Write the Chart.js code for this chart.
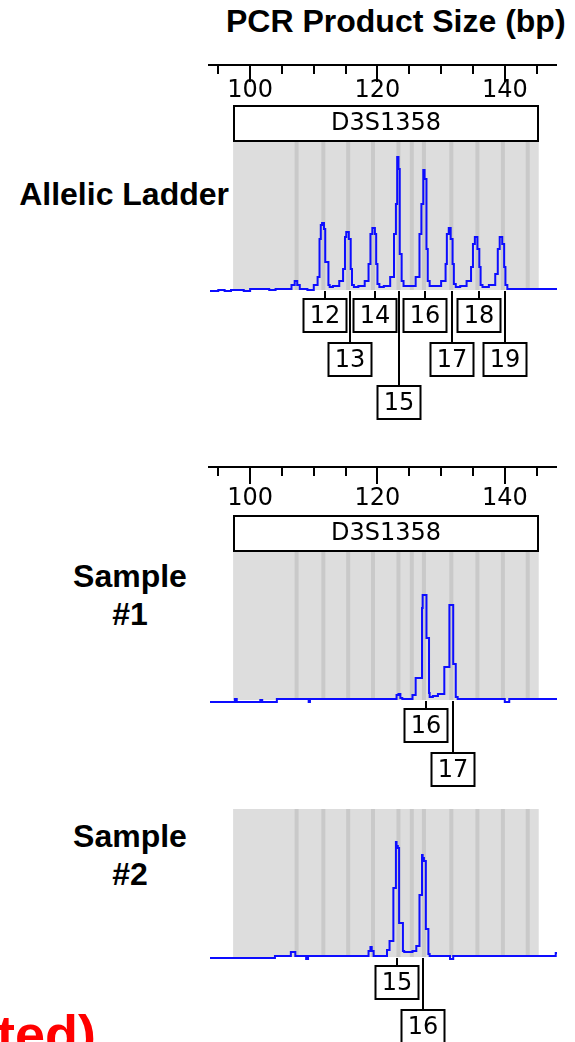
<!DOCTYPE html>
<html>
<head>
<meta charset="utf-8">
<script src="https://cdn.jsdelivr.net/npm/chart.js@4.4.1/dist/chart.umd.min.js"></script>
<style>
  html, body { margin: 0; padding: 0; background: #fff; }
  body { width: 575px; height: 1042px; position: relative; overflow: hidden; font-family: "Liberation Sans", Arial, sans-serif; }
  .lbl { position: absolute; font-weight: bold; color: #000; font-size: 32px; line-height: 38px; white-space: nowrap; }
  canvas { position: absolute; }
</style>
</head>
<body>
<div class="lbl" style="left:226px; top:2px;">PCR Product Size (bp)</div>
<div class="lbl" style="right:346px; top:175px;">Allelic Ladder</div>
<div class="lbl" style="left:60px; width:140px; text-align:center; top:557px;">Sample<br>#1</div>
<div class="lbl" style="left:60px; width:140px; text-align:center; top:817px;">Sample<br>#2</div>
<div class="lbl" style="left:-3px; top:1007px; font-size:54px; line-height:54px; color:#ff0000;">ted)</div>

<canvas id="ladderChart" width="375" height="400" style="left:200px; top:40px;"></canvas>
<canvas id="sample1Chart" width="375" height="360" style="left:200px; top:440px;"></canvas>
<canvas id="sample2Chart" width="375" height="242" style="left:200px; top:800px;"></canvas>

<script>
// size axis (bp)
const rulerTicks = [95, 100, 105, 110, 115, 120, 125, 130, 135, 140, 145];
const rulerLabels = [100, 120, 140];
const locusName = 'D3S1358';
const panelRange = [97.33, 145.33];
const binBp = [107.3, 111.5, 115.4, 119.3, 123.3, 125.4, 127.3, 131.6, 135.7, 139.7, 143.6];

/* ALLELIC LADDER trace */
const ladderBp = [93.7, 95.0, 96.0, 97.0, 98.0, 99.0, 100.0, 101.5, 103.0, 104.0, 105.0, 106.5,
  107.0, 107.4, 107.8, 108.2, 109.0, 110.0,
  110.6, 110.9, 111.1, 111.3, 111.6, 111.8, 112.0, 112.3, 112.5, 113.0, 114.0,
  114.6, 114.9, 115.1, 115.5, 115.8, 116.0, 116.3, 117.0, 118.0,
  118.6, 118.9, 119.2, 119.6, 119.8, 120.0, 120.3, 121.0, 122.0,
  122.6, 122.9, 123.1, 123.3, 123.5, 123.8, 124.1, 125.0, 126.0,
  126.6, 126.9, 127.2, 127.4, 127.7, 127.9, 128.2, 129.0, 130.0,
  130.7, 130.9, 131.2, 131.5, 131.8, 132.0, 132.3, 133.0, 134.0,
  134.7, 135.0, 135.3, 135.7, 136.0, 136.2, 136.5, 137.5, 138.5,
  138.9, 139.2, 139.6, 139.9, 140.1, 140.4, 141.0, 143.0, 145.0, 148.2];
const ladderRfu = [-2, -2, -1, -2, -1, -1, -2, 0, 0, -1, 0, 0,
  4, 8, 4, 0, 0, -1,
  4, 12, 50, 64, 66, 60, 27, 27, 4, 2, 3,
  8, 20, 52, 57, 50, 20, 4, 2, 3,
  8, 25, 55, 61, 55, 25, 5, 2, 3,
  12, 55, 85, 132, 120, 35, 8, 3, 3,
  12, 55, 85, 119, 110, 40, 8, 3, 3,
  8, 25, 55, 61, 50, 25, 5, 2, 3,
  8, 22, 45, 52, 40, 22, 4, 2, 4,
  15, 40, 52, 45, 22, 4, 0, 0, 0, 0];
const ladderAlleles = ['12', '13', '14', '15', '16', '17', '18', '19'];
const ladderAlleleBp = [111.69, 115.76, 119.69, 123.45, 127.53, 131.76, 136.0, 140.08];
const ladderAlleleRow = [0, 1, 0, 2, 0, 1, 0, 1];

/* SAMPLE #1 trace */
const sample1Bp = [93.7, 97.6, 97.9, 98.2, 101.6, 101.9, 102.2, 104.2, 104.5, 109.2, 109.4, 109.7,
  123.0, 123.3, 123.6, 123.9, 124.3, 125.5, 126.0, 126.4, 127.0, 127.1, 127.5, 127.7, 127.9, 128.1,
  128.2, 128.7, 129.5, 130.5, 130.9, 131.3, 131.4, 131.9, 132.0, 132.3, 132.6, 133.0,
  140.0, 140.3, 140.7, 141.0, 148.2];
const sample1Rfu = [-3, -3, 0, -3, -3, -1, -3, -3, 0, 0, -3, 0,
  0, 4, 5, 1, 0, 0, 4, 21, 21, 91, 104, 104, 61, 61,
  6, 2, 3, 5, 32, 32, 94, 94, 35, 35, 2, 0,
  0, -3, -3, 0, 0];
const sample1Alleles = ['16', '17'];
const sample1AlleleBp = [127.6, 131.8];
const sample1AlleleRow = [0, 1];

/* SAMPLE #2 trace */
const sample2Bp = [93.7, 103.9, 104.0, 106.4, 106.7, 107.1, 107.4, 108.8, 109.1, 109.4,
  118.6, 118.9, 119.1, 119.4, 119.7, 121.5, 121.9, 122.2, 122.5, 122.6, 122.9, 123.0, 123.2, 123.4,
  123.5, 124.0, 124.2, 124.8, 125.5, 126.1, 126.3, 126.6, 126.7, 127.0, 127.1, 127.3, 127.6,
  127.7, 128.0, 128.2, 128.8, 131.4, 131.6, 131.9, 132.1, 148.0, 148.2];
const sample2Rfu = [-2, -2, 0, 0, 4, 4, 0, 0, -3, 0,
  0, 5, 9, 5, 0, 0, 6, 15, 15, 68, 68, 114, 110, 108,
  33, 33, 5, 4, 4, 5, 10, 10, 61, 61, 101, 98, 95,
  27, 27, 2, 0, 0, -3, -3, 0, 0, 3];
const sample2Alleles = ['15', '16'];
const sample2AlleleBp = [123.0, 127.2];
const sample2AlleleRow = [0, 1];

const rowTops = [9, 53, 96];

const tracePanel = {
  id: 'tracePanel',
  beforeDatasetsDraw(chart, args, opts) {
    const { ctx, chartArea, scales: { x, y } } = chart;
    const l = x.getPixelForValue(panelRange[0]);
    const r = x.getPixelForValue(panelRange[1]);
    const top = chartArea.top;
    const bot = y.getPixelForValue(0) + 1;
    ctx.save();
    ctx.fillStyle = '#dddddd';
    ctx.fillRect(l, top, r - l, bot - top);
    ctx.fillStyle = '#c9c9c9';
    binBp.forEach(b => {
      const bx = x.getPixelForValue(b);
      ctx.fillRect(bx - 2, top, 4, bot - top);
    });
    ctx.restore();
  },
  afterDraw(chart, args, opts) {
    const { ctx, chartArea, scales: { x, y } } = chart;
    const base = y.getPixelForValue(0);
    ctx.save();
    ctx.strokeStyle = '#000';
    ctx.fillStyle = '#000';
    ctx.lineWidth = 2;
    ctx.font = '24px "DejaVu Sans"';
    ctx.textAlign = 'center';
    ctx.textBaseline = 'middle';

    if (opts.ruler) {
      const ly = opts.ruler.lineY;
      ctx.beginPath();
      ctx.moveTo(chartArea.left - 2, ly);
      ctx.lineTo(chartArea.right, ly);
      ctx.stroke();
      rulerTicks.forEach(t => {
        const tx = Math.round(x.getPixelForValue(t));
        const long = rulerLabels.includes(t);
        ctx.beginPath();
        ctx.moveTo(tx, ly);
        ctx.lineTo(tx, ly + (long ? 17 : 9));
        ctx.stroke();
      });
      rulerLabels.forEach(t => ctx.fillText(String(t), x.getPixelForValue(t), opts.ruler.labelY));

      // locus name box
      const l = Math.round(x.getPixelForValue(panelRange[0]));
      const r = Math.round(x.getPixelForValue(panelRange[1]));
      const bt = chartArea.top - 37;
      ctx.fillStyle = '#fff';
      ctx.fillRect(l, bt, r - l, 37);
      ctx.strokeRect(l + 1, bt + 1, r - l - 2, 35);
      ctx.fillStyle = '#000';
      ctx.fillText(locusName, (l + r) / 2, bt + 19);
    }

    // allele call boxes
    const w = 45, h = 35;
    opts.names.forEach((name, i) => {
      const cx = Math.round(x.getPixelForValue(opts.bp[i]));
      const top = Math.round(base + rowTops[opts.rows[i]]);
      ctx.beginPath();
      ctx.moveTo(cx, base + 2);
      ctx.lineTo(cx, top);
      ctx.stroke();
    });
    opts.names.forEach((name, i) => {
      const cx = Math.round(x.getPixelForValue(opts.bp[i]));
      const top = Math.round(base + rowTops[opts.rows[i]]);
      ctx.fillStyle = '#fff';
      ctx.fillRect(cx - w / 2, top, w, h);
      ctx.strokeRect(cx - w / 2 + 1, top + 1, w - 2, h - 2);
      ctx.fillStyle = '#000';
      ctx.fillText(name, cx, top + h / 2 + 1);
    });
    ctx.restore();
  }
};

function traceChart(id, bp, rfu, panelOpts, pad) {
  return new Chart(document.getElementById(id), {
    type: 'line',
    data: {
      datasets: [{
        data: bp.map((b, i) => ({ x: b, y: rfu[i] })),
        borderColor: '#0d0dff',
        borderWidth: 2,
        pointRadius: 0,
        stepped: 'after',
        fill: false
      }]
    },
    options: {
      responsive: false,
      animation: false,
      layout: { padding: pad },
      plugins: {
        legend: { display: false },
        tooltip: { enabled: false },
        tracePanel: panelOpts
      },
      scales: {
        x: { type: 'linear', min: 93.7, max: 148.2, display: false },
        y: { min: -8, max: 147, display: false }
      }
    },
    plugins: [tracePanel]
  });
}

traceChart('ladderChart', ladderBp, ladderRfu,
  { ruler: { lineY: 25, labelY: 51 }, names: ladderAlleles, bp: ladderAlleleBp, rows: ladderAlleleRow },
  { top: 102, right: 18, bottom: 143, left: 10 });

traceChart('sample1Chart', sample1Bp, sample1Rfu,
  { ruler: { lineY: 27, labelY: 59 }, names: sample1Alleles, bp: sample1AlleleBp, rows: sample1AlleleRow },
  { top: 112, right: 18, bottom: 93, left: 10 });

traceChart('sample2Chart', sample2Bp, sample2Rfu,
  { names: sample2Alleles, bp: sample2AlleleBp, rows: sample2AlleleRow },
  { top: 9, right: 18, bottom: 78, left: 10 });
</script>
</body>
</html>
